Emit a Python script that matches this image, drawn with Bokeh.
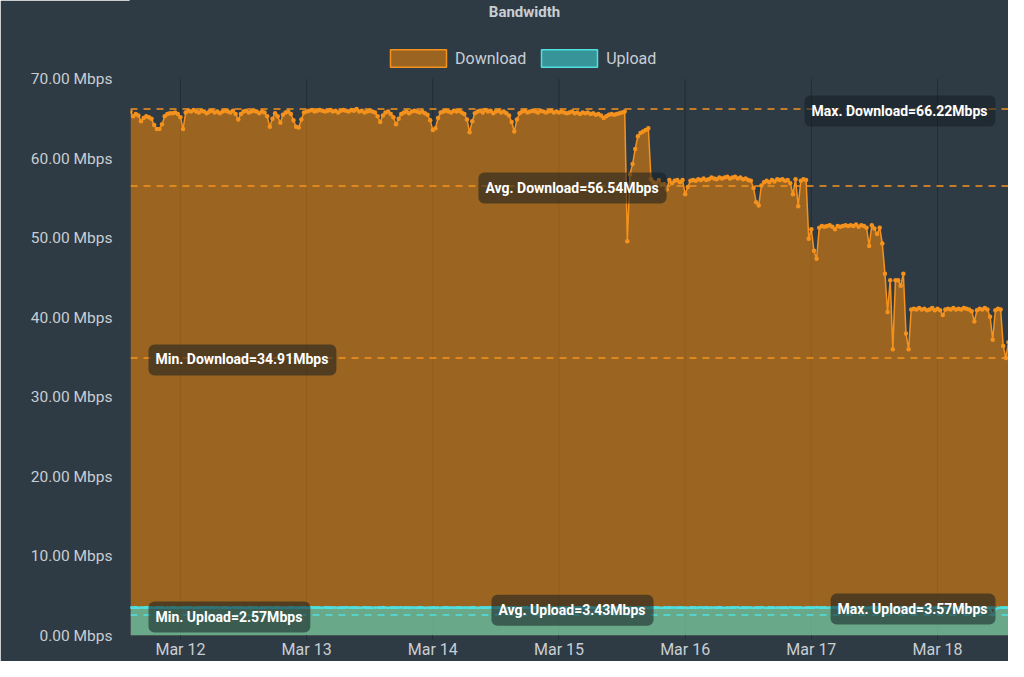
import pandas as pd
from bokeh.plotting import figure
from bokeh.models import (ColumnDataSource, Span, Label, Legend, LegendItem, DaysTicker,
                          DatetimeTickFormatter, PrintfTickFormatter, FixedTicker, Range1d)
from bokeh.embed import file_html
from bokeh.resources import INLINE

TITLE = "Bandwidth"
SERIES = ["Download", "Upload"]
START = "2024-03-11 14:30"
STEP = "30min"
Y_TICKS = [0, 10, 20, 30, 40, 50, 60, 70]
DAYS = ["2024-03-12", "2024-03-13", "2024-03-14", "2024-03-15", "2024-03-16", "2024-03-17", "2024-03-18"]

# Download (Mbps), one list per day
DL_MAR11 = [65.9, 65.3, 65.6, 65.4, 64.7, 65.1, 65.3, 65.2, 65.0, 64.2, 63.7, 63.7, 64.3, 65.3, 65.6, 65.7, 65.7, 65.8, 65.6]
DL_MAR12 = [65.2, 63.7, 65.8, 66.0, 65.9, 66.1, 65.9, 65.8, 66.0, 65.9, 65.7, 65.9,
            66.0, 65.8, 65.9, 65.7, 65.9, 66.0, 65.9, 65.8, 66.0, 65.6, 64.9, 65.6,
            65.9, 66.0, 65.8, 65.9, 66.0, 65.9, 65.7, 65.9, 65.8, 65.3, 64.0, 65.0,
            65.7, 65.3, 64.5, 65.5, 65.8, 65.9, 65.6, 64.8, 64.0, 63.9, 64.9, 65.8]
DL_MAR13 = [65.9, 66.0, 66.1, 65.9, 66.0, 66.1, 66.0, 65.9, 66.0, 66.1, 65.9, 66.0,
            65.8, 66.0, 66.1, 66.0, 65.9, 66.1, 66.0, 66.22, 65.9, 66.0, 65.8, 65.9,
            66.0, 65.9, 65.8, 65.3, 64.6, 65.4, 65.8, 65.9, 65.6, 65.2, 64.3, 65.0,
            65.6, 65.8, 65.9, 65.7, 65.9, 66.0, 65.9, 65.8, 65.9, 65.7, 65.5, 64.8]
DL_MAR14 = [63.6, 63.8, 65.1, 65.8, 65.9, 66.0, 65.9, 65.8, 66.0, 65.9, 66.0, 65.8,
            65.6, 64.9, 63.3, 64.7, 65.7, 65.9, 66.0, 65.8, 66.1, 65.9, 66.0, 65.7,
            65.9, 66.0, 65.8, 65.9, 65.7, 65.4, 64.6, 63.4, 64.9, 65.7, 65.9, 66.0,
            65.8, 65.9, 66.0, 65.9, 65.8, 66.0, 65.9, 65.8, 65.9, 66.0, 65.8, 65.9]
DL_MAR15 = [65.8, 65.9, 65.8, 65.7, 65.8, 65.9, 65.7, 65.8, 65.6, 65.8, 65.7, 65.8,
            65.6, 65.7, 65.5, 65.6, 65.4, 65.1, 65.3, 65.5, 65.6, 65.5, 65.6, 65.7,
            65.8, 65.9, 49.6, 58.0, 59.3, 61.2, 62.8, 63.2, 63.4, 63.6, 63.8, 57.4,
            57.0, 56.9, 57.3, 56.7, 56.8, 56.1, 57.3, 56.9, 57.2, 57.3, 57.0, 57.3]
DL_MAR16 = [55.5, 56.4, 57.2, 57.3, 57.2, 57.4, 57.3, 57.5, 57.3, 57.4, 57.6, 57.5,
            57.4, 57.6, 57.5, 57.6, 57.7, 57.5, 57.6, 57.7, 57.5, 57.6, 57.4, 57.5,
            57.3, 57.2, 56.3, 54.5, 54.1, 56.6, 57.0, 57.2, 57.0, 57.3, 57.1, 57.4,
            57.3, 57.4, 57.2, 57.3, 56.9, 55.5, 57.4, 54.0, 57.2, 57.4, 57.3, 49.9]
DL_MAR17 = [51.1, 48.4, 47.4, 51.3, 51.5, 51.4, 51.5, 51.6, 51.4, 51.1, 51.5, 51.4,
            51.5, 51.6, 51.5, 51.6, 51.5, 51.7, 51.4, 51.6, 51.5, 51.3, 49.0, 51.6,
            51.2, 50.5, 51.3, 49.3, 45.5, 40.7, 44.7, 36.0, 44.7, 44.7, 44.0, 45.5,
            38.0, 36.0, 41.0, 41.1, 41.0, 41.2, 41.0, 41.1, 40.9, 41.0, 41.2, 40.9]
DL_MAR18 = [41.1, 40.9, 40.3, 41.0, 41.1, 41.0, 41.2, 41.0, 41.1, 41.0, 41.2, 41.1,
            41.0, 40.8, 39.5, 40.9, 41.1, 41.0, 41.2, 41.0, 40.1, 37.2, 40.9, 41.1,
            41.0, 36.4, 34.91, 36.9]

# Upload (Mbps), one list per day
UL_MAR11 = [3.52, 3.50, 3.54, 3.49, 3.53, 3.51, 3.55, 3.50, 3.52, 3.48, 3.53, 3.51, 3.54, 3.50, 3.52, 3.49, 3.53, 3.51, 3.50]
UL_MAR12 = [3.51, 3.53, 3.49, 3.52, 3.54, 3.50, 3.52, 3.48, 3.53, 3.51, 3.55, 3.49,
            3.52, 3.50, 3.54, 3.51, 3.49, 3.53, 3.52, 3.50, 3.54, 3.48, 3.52, 3.51,
            3.53, 3.49, 3.55, 3.50, 3.52, 3.51, 3.49, 3.53, 3.50, 3.52, 3.54, 3.49,
            3.51, 3.53, 3.50, 3.52, 3.48, 3.53, 3.51, 3.54, 3.50, 3.52, 3.49, 3.51]
UL_MAR13 = [3.50, 3.52, 3.54, 3.49, 3.51, 3.53, 3.50, 3.55, 3.52, 3.48, 3.51, 3.53,
            3.49, 3.52, 3.50, 3.54, 3.51, 3.53, 3.49, 3.52, 3.50, 3.51, 3.54, 3.50,
            3.52, 3.49, 3.53, 3.51, 3.50, 3.54, 3.52, 3.48, 3.51, 3.53, 3.50, 3.52,
            3.54, 3.50, 3.51, 3.49, 3.53, 3.52, 3.50, 3.55, 3.51, 3.49, 3.52, 3.50]
UL_MAR14 = [3.51, 3.49, 3.53, 3.50, 3.52, 3.54, 3.48, 3.51, 3.53, 3.50, 3.52, 3.49,
            3.53, 3.51, 3.50, 3.54, 3.52, 3.49, 3.51, 3.53, 3.50, 3.52, 3.55, 3.50,
            3.49, 3.52, 3.51, 3.53, 3.50, 3.48, 3.52, 3.54, 3.51, 3.50, 3.53, 3.49,
            3.52, 3.50, 3.54, 3.51, 3.49, 3.53, 3.50, 3.52, 3.51, 3.54, 3.50, 3.52]
UL_MAR15 = [3.50, 3.53, 3.51, 3.49, 3.52, 3.54, 3.50, 3.51, 3.53, 3.48, 3.52, 3.50,
            3.54, 3.51, 3.49, 3.52, 3.50, 3.53, 3.51, 3.55, 3.50, 3.52, 3.49, 3.51,
            3.53, 3.50, 3.52, 3.51, 3.49, 3.54, 3.50, 3.52, 3.53, 3.51, 3.48, 3.52,
            3.50, 3.53, 3.51, 3.49, 3.52, 3.50, 3.54, 3.51, 3.53, 3.50, 3.52, 3.49]
UL_MAR16 = [3.52, 3.50, 3.51, 3.53, 3.49, 3.52, 3.54, 3.50, 3.51, 3.48, 3.53, 3.52,
            3.50, 3.54, 3.51, 3.49, 3.53, 3.50, 3.52, 3.51, 3.55, 3.49, 3.52, 3.50,
            3.51, 3.53, 3.49, 3.52, 3.50, 3.54, 3.51, 3.50, 3.53, 3.52, 3.48, 3.51,
            3.53, 3.50, 3.52, 3.49, 3.54, 3.51, 3.50, 3.52, 3.53, 3.49, 3.51, 3.52]
UL_MAR17 = [3.50, 3.52, 3.54, 3.51, 3.49, 3.53, 3.50, 3.52, 3.51, 3.55, 3.49, 3.52,
            3.51, 3.50, 3.53, 3.52, 3.48, 3.51, 3.54, 3.50, 3.52, 3.49, 3.53, 3.51,
            3.50, 3.52, 3.49, 3.54, 3.51, 3.50, 3.53, 3.52, 3.50, 3.57, 3.51, 3.49,
            3.52, 3.50, 3.53, 3.51, 3.49, 3.54, 3.50, 3.52, 3.51, 3.53, 3.50, 3.52]
UL_MAR18 = [3.51, 3.53, 3.50, 3.52, 3.49, 3.54, 3.51, 3.50, 3.52, 3.53, 3.49, 3.51,
            3.52, 3.50, 3.54, 3.51, 3.49, 3.52, 3.50, 3.53, 3.41, 2.57, 3.30, 3.48,
            3.52, 3.50, 3.51, 3.53]

# Summary values shown on the chart
DL_MAX, DL_AVG, DL_MIN = 66.22, 56.54, 34.91
UL_MAX, UL_AVG, UL_MIN = 3.57, 3.43, 2.57

download = DL_MAR11 + DL_MAR12 + DL_MAR13 + DL_MAR14 + DL_MAR15 + DL_MAR16 + DL_MAR17 + DL_MAR18
upload = UL_MAR11 + UL_MAR12 + UL_MAR13 + UL_MAR14 + UL_MAR15 + UL_MAR16 + UL_MAR17 + UL_MAR18
times = pd.date_range(START, periods=len(download), freq=STEP)
days = pd.to_datetime(DAYS)

src = ColumnDataSource(dict(t=times, dl=download, ul=upload[:len(download)], zero=[0] * len(download)))

BG = "#2e3b45"
TEXT = "#c9ced2"
GRID = "#222c33"
DL_LINE = "#f5921e"
DL_FILL = "#ff8c00"
UL_LINE = "#4fe0e0"
UL_FILL = "#40e0e0"
FONT = "Roboto"

# layout (pixels)
W, H = 1008, 661
LEFT, BOTTOM_BORDER = 130, 22
PLOT_TOP_PX = 79          # where 70 Mbps sits
FRAME_H = H - BOTTOM_BORDER
Y_MAX = 70
Y_TOP = Y_MAX * FRAME_H / (FRAME_H - PLOT_TOP_PX)   # frame extends up to canvas top

p = figure(width=W, height=H, output_backend="svg", toolbar_location=None,
           x_axis_type="datetime",
           x_range=Range1d(times[0], times[-1]), y_range=Range1d(0, Y_TOP),
           min_border_left=LEFT, min_border_right=0, min_border_top=0,
           min_border_bottom=BOTTOM_BORDER)
p.background_fill_color = BG
p.border_fill_color = BG
p.outline_line_color = BG
p.outline_line_width = 2

# axes
p.yaxis.ticker = FixedTicker(ticks=Y_TICKS)
p.yaxis.formatter = PrintfTickFormatter(format="%.2f Mbps")
p.yaxis.axis_line_color = None
p.yaxis.major_tick_line_color = None
p.yaxis.minor_tick_line_color = None
p.yaxis.major_label_standoff = 12
p.yaxis.major_label_text_font = FONT
p.yaxis.major_label_text_font_size = "15.5px"
p.yaxis.major_label_text_color = TEXT

p.xaxis.ticker = DaysTicker(days=list(range(1, 32)))
p.xaxis.formatter = DatetimeTickFormatter(days="%b %d", months="%b %d")
p.xaxis.axis_line_color = None
p.xaxis.major_tick_line_color = GRID
p.xaxis.major_tick_out = 4
p.xaxis.major_tick_in = 0
p.xaxis.minor_tick_line_color = None
p.xaxis.major_label_standoff = 0
p.xaxis.major_label_text_font = FONT
p.xaxis.major_label_text_font_size = "16px"
p.xaxis.major_label_text_color = TEXT

p.grid.grid_line_color = None

# day grid lines, only over the plotting band
p.segment(x0=days, x1=days, y0=[0] * len(days), y1=[Y_MAX] * len(days),
          line_color=GRID, line_width=1)

# series
p.varea(x="t", y1="zero", y2="dl", source=src, fill_color=DL_FILL, fill_alpha=0.52)
p.line(x="t", y="dl", source=src, line_color=DL_LINE, line_width=1.5)
p.scatter(x="t", y="dl", source=src, size=4.5, fill_color=DL_LINE, line_color=None)
p.varea(x="t", y1="zero", y2="ul", source=src, fill_color=UL_FILL, fill_alpha=0.55)
p.line(x="t", y="ul", source=src, line_color=UL_LINE, line_width=1.5)
p.scatter(x="t", y="ul", source=src, size=3, fill_color=UL_LINE, line_color=None)

# legend proxies (no visible data)
NAN = [float("nan")]
dl_proxy = p.quad(left=NAN, right=NAN, top=NAN, bottom=NAN, fill_color=DL_FILL, fill_alpha=0.52,
                  line_color=DL_LINE, line_width=1.5)
ul_proxy = p.quad(left=NAN, right=NAN, top=NAN, bottom=NAN, fill_color=UL_FILL, fill_alpha=0.55,
                  line_color=UL_LINE, line_width=1.5)
legend = Legend(items=[LegendItem(label=SERIES[0], renderers=[dl_proxy]),
                       LegendItem(label=SERIES[1], renderers=[ul_proxy])],
                orientation="horizontal", location=(383 - LEFT, FRAME_H - 73),
                glyph_width=70, glyph_height=22, label_standoff=2, spacing=8,
                padding=0, margin=0, border_line_color=None, background_fill_alpha=0,
                label_text_font=FONT, label_text_font_size="16px", label_text_color=TEXT,
                label_height=17)
p.add_layout(legend, "center")

# title
p.add_layout(Label(x=524 - LEFT, y=FRAME_H - 15, x_units="screen", y_units="screen", text=TITLE,
                   text_align="center", text_baseline="middle", text_font=FONT,
                   text_font_size="15px", text_font_style="bold", text_color=TEXT))

# reference lines
for val, col in [(DL_MAX, DL_LINE), (DL_AVG, DL_LINE), (DL_MIN, DL_LINE),
                 (UL_MAX, UL_LINE), (UL_AVG, UL_LINE), (UL_MIN, UL_LINE)]:
    p.add_layout(Span(location=val, dimension="width", line_color=col, line_width=1.5,
                      line_dash="7 6"))

labels = [
    (f"Max. Download={DL_MAX:.2f}Mbps", DL_MAX, 995 - LEFT, "right"),
    (f"Avg. Download={DL_AVG:.2f}Mbps", DL_AVG, 572 - LEFT, "center"),
    (f"Min. Download={DL_MIN:.2f}Mbps", DL_MIN, 148 - LEFT, "left"),
    (f"Max. Upload={UL_MAX:.2f}Mbps", UL_MAX, 995 - LEFT, "right"),
    (f"Avg. Upload={UL_AVG:.2f}Mbps", UL_AVG, 572 - LEFT, "center"),
    (f"Min. Upload={UL_MIN:.2f}Mbps", UL_MIN, 148 - LEFT, "left"),
]
for txt, val, sx, align in labels:
    p.add_layout(Label(x=sx, y=val, x_units="screen", y_units="data", text=txt,
                       y_offset=-2,
                       text_align=align, text_baseline="middle", text_font=FONT,
                       text_font_size="14px", text_font_style="bold", text_color="white",
                       background_fill_color="#161e22", background_fill_alpha=0.55,
                       padding=(7, 8, 7, 8), border_radius=6))

open("out.html", "w").write(file_html(p, INLINE))
